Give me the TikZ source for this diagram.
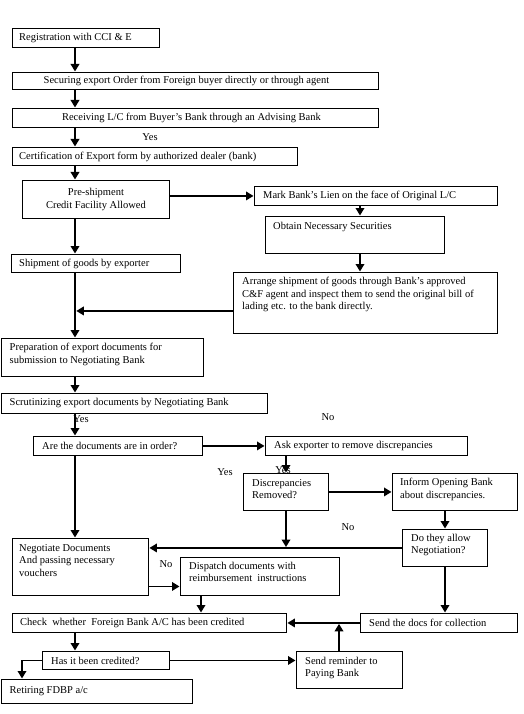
\documentclass[tikz,border=0pt]{standalone}
\usepackage{fontspec}
\setmainfont{Liberation Serif}
\usetikzlibrary{arrows.meta,calc}

\begin{document}
\begin{tikzpicture}[x=1pt,y=-1pt,
    box/.style={draw, fill=white, line width=0.9pt, anchor=north west, inner sep=0pt},
    txt/.style={inner sep=0pt, font=\fontsize{10.5}{12.5}\selectfont, align=left},
    flow/.style={line width=1.8pt, -{Triangle[width=8.5pt,length=7.5pt]}, shorten >=0.5pt},
    spine/.style={flow, line width=2.6pt}]
  \useasboundingbox (0,0) rectangle (524,714);

  % columns the connectors run along
  \coordinate (sp) at (75,0);
  \coordinate (rx) at (360,0);
  \coordinate (dx) at (286,0);
  \coordinate (ix) at (445,0);
  \coordinate (px) at (201,0);
  \coordinate (mx) at (339,0);
  \coordinate (lx) at (22,0);

  % branch labels
  \node[txt] (yes1) at (150,137) {Yes};
  \node[txt] (yes2) at (81,419) {Yes};
  \node[txt] (no1) at (328,417) {No};
  \node[txt] (yes3) at (225,472) {Yes};
  \node[txt] (yes4) at (283,470) {Yes};
  \node[txt] (no2) at (348,527) {No};
  \node[txt] (no3) at (166,564) {No};

  % boxes
  \node[box, minimum width=147pt, minimum height=19pt] (reg) at (12,28) {};
  \node[box, minimum width=366pt, minimum height=17pt] (sec) at (12,72) {};
  \node[box, minimum width=366pt, minimum height=19pt] (rec) at (12,108) {};
  \node[box, minimum width=285pt, minimum height=18pt] (cert) at (12,147) {};
  \node[box, minimum width=147pt, minimum height=38pt] (pre) at (22,180) {};
  \node[box, minimum width=243pt, minimum height=19pt] (mark) at (254,186) {};
  \node[box, minimum width=179pt, minimum height=37pt] (obt) at (265,216) {};
  \node[box, minimum width=169pt, minimum height=18pt] (ship) at (11,254) {};
  \node[box, minimum width=264pt, minimum height=61pt] (arrg) at (233,272) {};
  \node[box, minimum width=202pt, minimum height=38pt] (prep) at (0.5,338) {};
  \node[box, minimum width=266pt, minimum height=20pt] (scr) at (0.5,393) {};
  \node[box, minimum width=169pt, minimum height=19pt] (are) at (33,436) {};
  \node[box, minimum width=202pt, minimum height=19pt] (ask) at (265,436) {};
  \node[box, minimum width=85pt, minimum height=37pt] (disc) at (243,473) {};
  \node[box, minimum width=125pt, minimum height=37pt] (inf) at (392,473) {};
  \node[box, minimum width=85pt, minimum height=37pt] (dthy) at (402,529) {};
  \node[box, minimum width=136pt, minimum height=57pt] (neg) at (12,538) {};
  \node[box, minimum width=159pt, minimum height=38pt] (disp) at (180,557) {};
  \node[box, minimum width=274pt, minimum height=19pt] (chk) at (12,613) {};
  \node[box, minimum width=157pt, minimum height=19pt] (send) at (360,613) {};
  \node[box, minimum width=127pt, minimum height=18pt] (has) at (42,651) {};
  \node[box, minimum width=106pt, minimum height=37pt] (rem) at (296,651) {};
  \node[box, minimum width=191pt, minimum height=24pt] (ret) at (0.5,679) {};

  % box texts
  \node[txt, anchor=west] (reg-t) at ([xshift=7pt]reg.west) {Registration with CCI \& E};
  \node[txt] (sec-t) at ([xshift=-9pt]sec.center) {Securing export Order from Foreign buyer directly or through agent};
  \node[txt] (rec-t) at ([xshift=-4pt]rec.center) {Receiving L/C from Buyer’s Bank through an Advising Bank};
  \node[txt, anchor=west] (cert-t) at ([xshift=7pt]cert.west) {Certification of Export form by authorized dealer (bank)};
  \node[txt, align=center] (pre-t) at (pre.center) {Pre-shipment\\Credit Facility Allowed};
  \node[txt, anchor=west] (mark-t) at ([xshift=9pt]mark.west) {Mark Bank’s Lien on the face of Original L/C};
  \node[txt, anchor=north west] (obt-t) at ([xshift=8pt,yshift=-6pt]obt.north west) {Obtain Necessary Securities};
  \node[txt, anchor=west] (ship-t) at ([xshift=8pt]ship.west) {Shipment of goods by exporter};
  \node[txt, anchor=north west] (arrg-t) at ([xshift=9pt,yshift=-5pt]arrg.north west)
    {Arrange shipment of goods through Bank’s approved\\C\&F agent and inspect them to send the original bill of\\lading etc. to the bank directly.};
  \node[txt, anchor=north west] (prep-t) at ([xshift=9pt,yshift=-5pt]prep.north west)
    {Preparation of export documents for\\submission to Negotiating Bank};
  \node[txt, anchor=west] (scr-t) at ([xshift=9pt]scr.west) {Scrutinizing export documents by Negotiating Bank};
  \node[txt, anchor=west] (are-t) at ([xshift=9pt]are.west) {Are the documents are in order?};
  \node[txt, anchor=west] (ask-t) at ([xshift=9pt]ask.west) {Ask exporter to remove discrepancies};
  \node[txt, anchor=north west] (disc-t) at ([xshift=9pt,yshift=-6pt]disc.north west) {Discrepancies\\Removed?};
  \node[txt, anchor=north west] (inf-t) at ([xshift=8pt,yshift=-5pt]inf.north west) {Inform Opening Bank\\about discrepancies.};
  \node[txt, anchor=north west] (dthy-t) at ([xshift=9pt,yshift=-5pt]dthy.north west) {Do they allow\\Negotiation?};
  \node[txt, anchor=north west] (neg-t) at ([xshift=7pt,yshift=-6pt]neg.north west)
    {Negotiate Documents\\And passing necessary\\vouchers};
  \node[txt, anchor=north west] (disp-t) at ([xshift=9pt,yshift=-5pt]disp.north west)
    {Dispatch documents with\\reimbursement\ \ instructions};
  \node[txt, anchor=west] (chk-t) at ([xshift=8pt]chk.west) {Check\ \ whether\ \ Foreign Bank A/C has been credited};
  \node[txt, anchor=west] (send-t) at ([xshift=9pt]send.west) {Send the docs for collection};
  \node[txt, anchor=west] (has-t) at ([xshift=9pt]has.west) {Has it been credited?};
  \node[txt, anchor=north west] (rem-t) at ([xshift=9pt,yshift=-6pt]rem.north west) {Send reminder to\\Paying Bank};
  \node[txt, anchor=west] (ret-t) at ([xshift=9pt]ret.west) {Retiring FDBP a/c};

  % connectors
  \draw[spine] (reg.south -| sp) -- (sec.north -| sp);
  \draw[spine] (sec.south -| sp) -- (rec.north -| sp);
  \draw[spine] (rec.south -| sp) -- (cert.north -| sp);
  \draw[spine] (cert.south -| sp) -- (pre.north -| sp);
  \draw[flow] (pre.east |- mark.west) -- (mark.west);
  \draw[flow] (mark.south -| rx) -- (obt.north -| rx);
  \draw[flow] (obt.south -| rx) -- (arrg.north -| rx);
  \draw[spine] (pre.south -| sp) -- (ship.north -| sp);
  \draw[spine] (ship.south -| sp) -- (prep.north -| sp);
  \draw[spine, shorten >=1.3pt] ([yshift=-8pt]arrg.west) -- ([yshift=-8pt]arrg.west -| sp);
  \draw[spine] (prep.south -| sp) -- (scr.north -| sp);
  \draw[spine] (scr.south -| sp) -- (are.north -| sp);
  \draw[flow] (are.east) -- (ask.west);
  \draw[spine] (are.south -| sp) -- (neg.north -| sp);
  \draw[flow] (ask.south -| dx) -- (disc.north -| dx);
  \draw[flow] (disc.east) -- (inf.west);
  \draw[flow] (inf.south -| ix) -- (dthy.north -| ix);
  \draw[flow] (dthy.west) -- (dthy.west -| neg.east);
  \draw[flow, shorten >=0.9pt] (disc.south -| dx) -- (dthy.west -| dx);
  \draw[flow] ([yshift=-19.5pt]neg.east) -- ([yshift=-19.5pt]neg.east -| disp.west);
  \draw[flow] (disp.south -| px) -- (chk.north -| px);
  \draw[flow] (dthy.south -| ix) -- (send.north -| ix);
  \draw[flow] (send.west) -- (chk.east);
  \draw[flow, shorten >=0.9pt] (rem.north -| mx) -- (send.west -| mx);
  \draw[spine] (chk.south -| sp) -- (has.north -| sp);
  \draw[flow] (has.east) -- (has.east -| rem.west);
  \draw[line width=0.9pt] (has.west) -- (has.west -| lx);
  \draw[flow] (has.west -| lx) -- (ret.north -| lx);
\end{tikzpicture}
\end{document}
